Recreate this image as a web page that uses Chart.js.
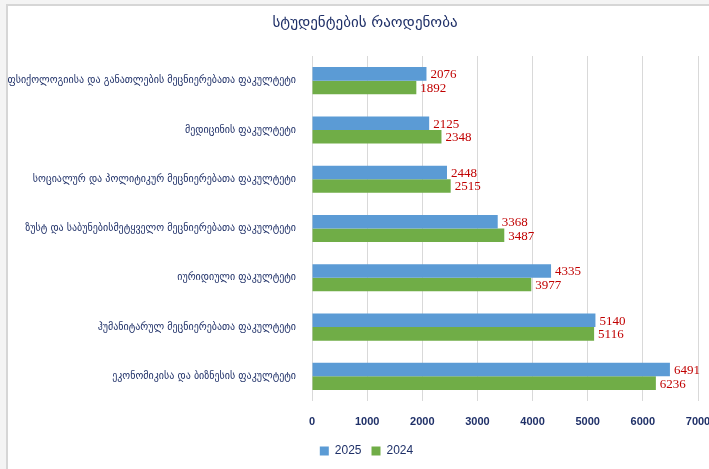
<!DOCTYPE html>
<html>
<head>
<meta charset="utf-8">
<script src="https://cdn.jsdelivr.net/npm/chart.js@4"></script>
<style>
  body { margin: 0; background: #ffffff; }
  #wrap { position: relative; width: 709px; height: 469px; background: #f4f4f4; }
  #frame { position: absolute; left: 6px; top: 4px; right: 0; bottom: 0; background: #ffffff;
           border-left: 2px solid #d6d6d6; border-top: 2px solid #d6d6d6; }
  canvas { position: absolute; left: 0; top: 0; }
</style>
</head>
<body>
<div id="wrap">
  <div id="frame"></div>
  <canvas id="chart" width="709" height="469"></canvas>
</div>
<script>
// faculties, top to bottom
const faculties = [
    "ფსიქოლოგიისა და განათლების მეცნიერებათა ფაკულტეტი",
    "მედიცინის ფაკულტეტი",
    "სოციალურ და პოლიტიკურ მეცნიერებათა ფაკულტეტი",
    "ზუსტ და საბუნებისმეტყველო მეცნიერებათა ფაკულტეტი",
    "იურიდიული ფაკულტეტი",
    "ჰუმანიტარულ მეცნიერებათა ფაკულტეტი",
    "ეკონომიკისა და ბიზნესის ფაკულტეტი"
];
const students2025 = [2076, 2125, 2448, 3368, 4335, 5140, 6491];
const students2024 = [1892, 2348, 2515, 3487, 3977, 5116, 6236];
const xTicks = [0, 1000, 2000, 3000, 4000, 5000, 6000, 7000];
const chartTitle = "სტუდენტების რაოდენობა";

const navy = "#1f3068";

// draws the numbers next to each bar
const valueLabels = {
    id: "valueLabels",
    afterDatasetsDraw(chart) {
        const ctx = chart.ctx;
        ctx.save();
        ctx.font = "13px 'Liberation Serif'";
        ctx.fillStyle = "#c00000";
        ctx.textAlign = "left";
        ctx.textBaseline = "middle";
        chart.data.datasets.forEach(function(ds, i) {
            chart.getDatasetMeta(i).data.forEach(function(bar, j) {
                ctx.fillText(ds.data[j], bar.x + 4, bar.y + 1);
            });
        });
        ctx.restore();
    }
};

// title drawn by hand so the plot top stays fixed
const titleText = {
    id: "titleText",
    afterDraw(chart) {
        const ctx = chart.ctx;
        ctx.save();
        ctx.font = "15px 'DejaVu Sans'";
        ctx.fillStyle = navy;
        ctx.textAlign = "center";
        ctx.textBaseline = "middle";
        ctx.fillText(chartTitle, 365, 23);
        ctx.restore();
    }
};

// legend sits a bit right of the canvas centre in the original
const legendShift = {
    id: "legendShift",
    beforeDraw(chart) {
        const lg = chart.legend;
        if (lg && !lg._shifted) {
            const orig = lg.draw.bind(lg);
            lg.draw = function() {
                chart.ctx.save();
                chart.ctx.translate(12, 0);
                orig();
                chart.ctx.restore();
            };
            lg._shifted = true;
        }
    }
};

new Chart(document.getElementById("chart"), {
    type: "bar",
    data: {
        labels: faculties,
        datasets: [
            { label: "2025", data: students2025, backgroundColor: "#5b9bd5", borderWidth: 0 },
            { label: "2024", data: students2024, backgroundColor: "#70ad47", borderWidth: 0 }
        ]
    },
    options: {
        indexAxis: "y",
        responsive: false,
        animation: false,
        layout: { padding: { top: 56, left: 0, right: 0, bottom: 2 } },
        datasets: { bar: { barPercentage: 1, categoryPercentage: 0.55 } },
        plugins: {
            title: { display: false },
            tooltip: { enabled: false },
            legend: {
                position: "bottom",
                labels: {
                    boxWidth: 9,
                    boxHeight: 9,
                    padding: 10,
                    color: navy,
                    font: { family: "'Liberation Sans'", size: 12 }
                }
            }
        },
        scales: {
            x: {
                min: 0,
                max: 7000,
                afterBuildTicks: function(scale) {
                    scale.ticks = xTicks.map(v => ({ value: v }));
                },
                afterFit: function(scale) {
                    scale.height = 34;
                    scale.paddingLeft = 0;
                    scale.paddingRight = 11;
                },
                grid: { color: "#d9d9d9", drawTicks: false },
                border: { display: false },
                ticks: {
                    padding: 14,
                    color: navy,
                    font: { family: "'Liberation Sans'", size: 11, weight: "bold" },
                    callback: function(value) { return String(value); }
                }
            },
            y: {
                afterFit: function(scale) { scale.width = 312; },
                grid: { display: false },
                border: { display: false },
                ticks: {
                    padding: 8,
                    color: navy,
                    font: { family: "'DejaVu Sans'", size: 10 }
                }
            }
        }
    },
    plugins: [valueLabels, titleText, legendShift]
});
</script>
</body>
</html>
